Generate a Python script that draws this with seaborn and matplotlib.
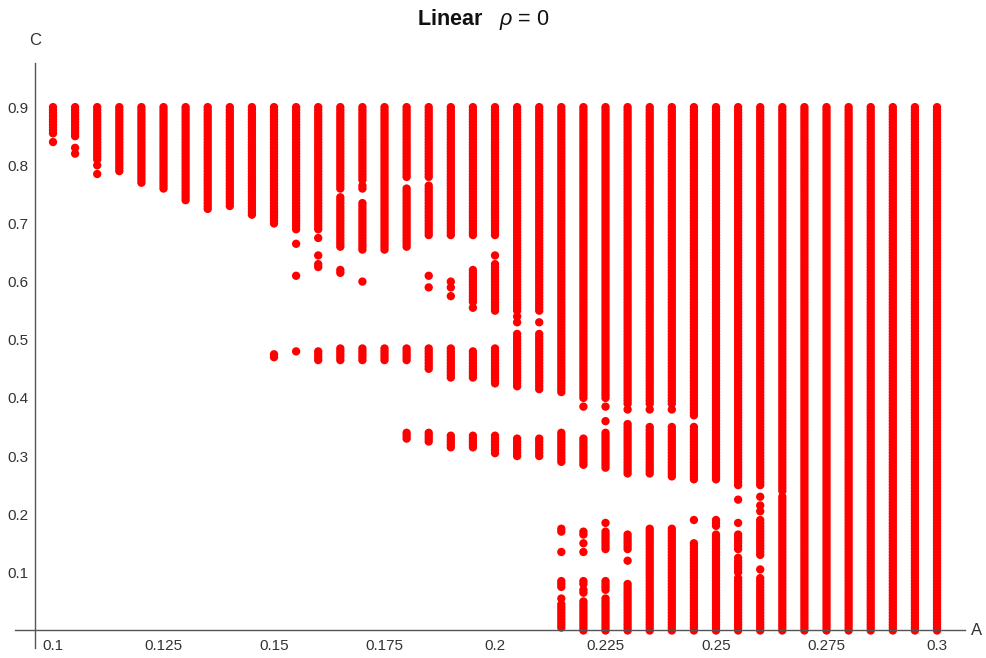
import numpy as np
import pandas as pd
import matplotlib
matplotlib.use("Agg")
import matplotlib.pyplot as plt
import seaborn as sns

# ---------------- data ----------------
A_VALUES = [round(0.1 + 0.005 * k, 3) for k in range(41)]
C_STEP = 0.005

# C ranges (lo, hi) present in each A column (single dots as (v, v))
C_RANGES = [
    [(0.855, 0.9), (0.84, 0.84)],                                   # 0.100
    [(0.85, 0.9), (0.83, 0.83), (0.82, 0.82)],                      # 0.105
    [(0.81, 0.9), (0.8, 0.8), (0.785, 0.785)],                      # 0.110
    [(0.79, 0.9)],                                                  # 0.115
    [(0.77, 0.9)],                                                  # 0.120
    [(0.76, 0.9)],                                                  # 0.125
    [(0.74, 0.9)],                                                  # 0.130
    [(0.725, 0.9)],                                                 # 0.135
    [(0.73, 0.9)],                                                  # 0.140
    [(0.715, 0.9)],                                                 # 0.145
    [(0.70, 0.9), (0.47, 0.475)],                                   # 0.150
    [(0.69, 0.9), (0.665, 0.665), (0.61, 0.61), (0.48, 0.48)],      # 0.155
    [(0.69, 0.9), (0.675, 0.675), (0.645, 0.645), (0.625, 0.63),
     (0.465, 0.48)],                                                # 0.160
    [(0.76, 0.9), (0.66, 0.745), (0.615, 0.62), (0.465, 0.485)],    # 0.165
    [(0.775, 0.9), (0.76, 0.765), (0.655, 0.735), (0.6, 0.6),
     (0.465, 0.485)],                                               # 0.170
    [(0.655, 0.9), (0.465, 0.485)],                                 # 0.175
    [(0.78, 0.9), (0.66, 0.76), (0.465, 0.485), (0.33, 0.34)],      # 0.180
    [(0.78, 0.9), (0.68, 0.765), (0.61, 0.61), (0.59, 0.59),
     (0.45, 0.485), (0.325, 0.34)],                                 # 0.185
    [(0.68, 0.9), (0.6, 0.6), (0.59, 0.59), (0.575, 0.575),
     (0.435, 0.485), (0.315, 0.335)],                               # 0.190
    [(0.68, 0.9), (0.565, 0.62), (0.555, 0.555), (0.435, 0.48),
     (0.315, 0.335)],                                               # 0.195
    [(0.68, 0.9), (0.645, 0.645), (0.55, 0.63), (0.425, 0.485),
     (0.305, 0.335)],                                               # 0.200
    [(0.59, 0.9), (0.55, 0.585), (0.54, 0.54), (0.53, 0.53),
     (0.51, 0.51), (0.42, 0.505), (0.3, 0.33)],                     # 0.205
    [(0.55, 0.9), (0.53, 0.53), (0.415, 0.51), (0.3, 0.33)],        # 0.210
    [(0.41, 0.9), (0.29, 0.34), (0.17, 0.175), (0.135, 0.135),
     (0.075, 0.085), (0.055, 0.055), (0.005, 0.045)],               # 0.215
    [(0.4, 0.9), (0.385, 0.385), (0.285, 0.33), (0.165, 0.17),
     (0.15, 0.15), (0.135, 0.135), (0.08, 0.085), (0.065, 0.07),
     (0.0, 0.05)],                                                  # 0.220
    [(0.4, 0.9), (0.385, 0.385), (0.36, 0.36), (0.28, 0.34),
     (0.185, 0.185), (0.14, 0.17), (0.07, 0.085), (0.0, 0.055)],    # 0.225
    [(0.39, 0.9), (0.38, 0.38), (0.27, 0.355), (0.14, 0.165),
     (0.12, 0.12), (0.0, 0.08)],                                    # 0.230
    [(0.39, 0.9), (0.38, 0.38), (0.27, 0.35), (0.0, 0.175)],        # 0.235
    [(0.39, 0.9), (0.38, 0.38), (0.265, 0.35), (0.0, 0.175)],       # 0.240
    [(0.37, 0.9), (0.26, 0.35), (0.19, 0.19), (0.0, 0.15)],         # 0.245
    [(0.36, 0.9), (0.26, 0.355), (0.18, 0.19), (0.0, 0.165)],       # 0.250
    [(0.36, 0.9), (0.25, 0.355), (0.225, 0.225), (0.185, 0.185),
     (0.14, 0.165), (0.1, 0.125), (0.0, 0.09)],                     # 0.255
    [(0.25, 0.9), (0.23, 0.23), (0.215, 0.215), (0.205, 0.205),
     (0.13, 0.19), (0.105, 0.105), (0.0, 0.09)],                    # 0.260
    [(0.24, 0.9), (0.0, 0.23)],                                     # 0.265
    [(0.0, 0.9)],                                                   # 0.270
    [(0.0, 0.9)],                                                   # 0.275
    [(0.0, 0.9)],                                                   # 0.280
    [(0.0, 0.9)],                                                   # 0.285
    [(0.0, 0.9)],                                                   # 0.290
    [(0.0, 0.9)],                                                   # 0.295
    [(0.0, 0.9)],                                                   # 0.300
]

X_TICKS = [0.1, 0.125, 0.15, 0.175, 0.2, 0.225, 0.25, 0.275, 0.3]
X_TICK_LABELS = ["0.1", "0.125", "0.15", "0.175", "0.2", "0.225", "0.25", "0.275", "0.3"]
Y_TICKS = [0.1, 0.2, 0.3, 0.4, 0.5, 0.6, 0.7, 0.8, 0.9]
Y_TICK_LABELS = ["0.1", "0.2", "0.3", "0.4", "0.5", "0.6", "0.7", "0.8", "0.9"]

# build long table from the ranges (C sampled on the grid step)
rows_a, rows_c = [], []
for a, ranges in zip(A_VALUES, C_RANGES):
    for lo, hi in ranges:
        k0, k1 = int(round(lo / C_STEP)), int(round(hi / C_STEP))
        for k in range(k0, k1 + 1):
            rows_a.append(a)
            rows_c.append(round(k * C_STEP, 4))
df = pd.DataFrame({"A": rows_a, "C": rows_c})

# ---------------- style ----------------
sns.set_theme(style="white")
plt.rcParams["font.family"] = ["Liberation Sans", "DejaVu Sans"]
plt.rcParams["mathtext.fontset"] = "custom"
plt.rcParams["mathtext.rm"] = "Liberation Sans"
plt.rcParams["mathtext.it"] = "Liberation Sans:italic"
plt.rcParams["mathtext.bf"] = "Liberation Sans:bold"

W, H = 987, 658
fig = plt.figure(figsize=(W / 100, H / 100), dpi=100)
L, R, T, B = 15, 965, 63, 648
ax = fig.add_axes([L / W, 1 - B / H, (R - L) / W, (B - T) / H])

sns.scatterplot(data=df, x="A", y="C", ax=ax, color="#ff0000",
                s=36, linewidth=0, edgecolor="none", legend=False)

ax.set_xlim(0.0914, 0.30633)
ax.set_ylim(-0.0301, 0.9759)

axis_col = "#555555"
for side in ["top", "right"]:
    ax.spines[side].set_visible(False)
ax.spines["left"].set_position(("data", 0.09593))
ax.spines["bottom"].set_position(("data", 0.0))
for side in ["left", "bottom"]:
    ax.spines[side].set_color(axis_col)
    ax.spines[side].set_linewidth(1.0)

ax.set_xticks(X_TICKS)
ax.set_xticklabels(X_TICK_LABELS)
ax.set_yticks(Y_TICKS)
ax.set_yticklabels(Y_TICK_LABELS)
ax.tick_params(axis="both", direction="in", length=4, width=0.9,
               color=axis_col, labelcolor="#333333", labelsize=11)
ax.tick_params(axis="x", pad=6)
ax.tick_params(axis="y", pad=4.5)
ax.set_xlabel("")
ax.set_ylabel("")

ax.annotate("A", xy=(1.0, 0.0), xycoords=("axes fraction", "data"),
            xytext=(4, 0), textcoords="offset points",
            ha="left", va="center", fontsize=12, color="#333333")
ax.annotate("C", xy=(0.09593, 1.0), xycoords=("data", "axes fraction"),
            xytext=(0, 16), textcoords="offset points",
            ha="center", va="center", fontsize=12, color="#333333")

fig.text(483 / W, 1 - 19 / H, r"$\mathbf{Linear}$   $\mathit{\rho}$ = 0",
         ha="center", va="center", fontsize=15.5, color="#111111")

fig.savefig("out.png", dpi=100)
